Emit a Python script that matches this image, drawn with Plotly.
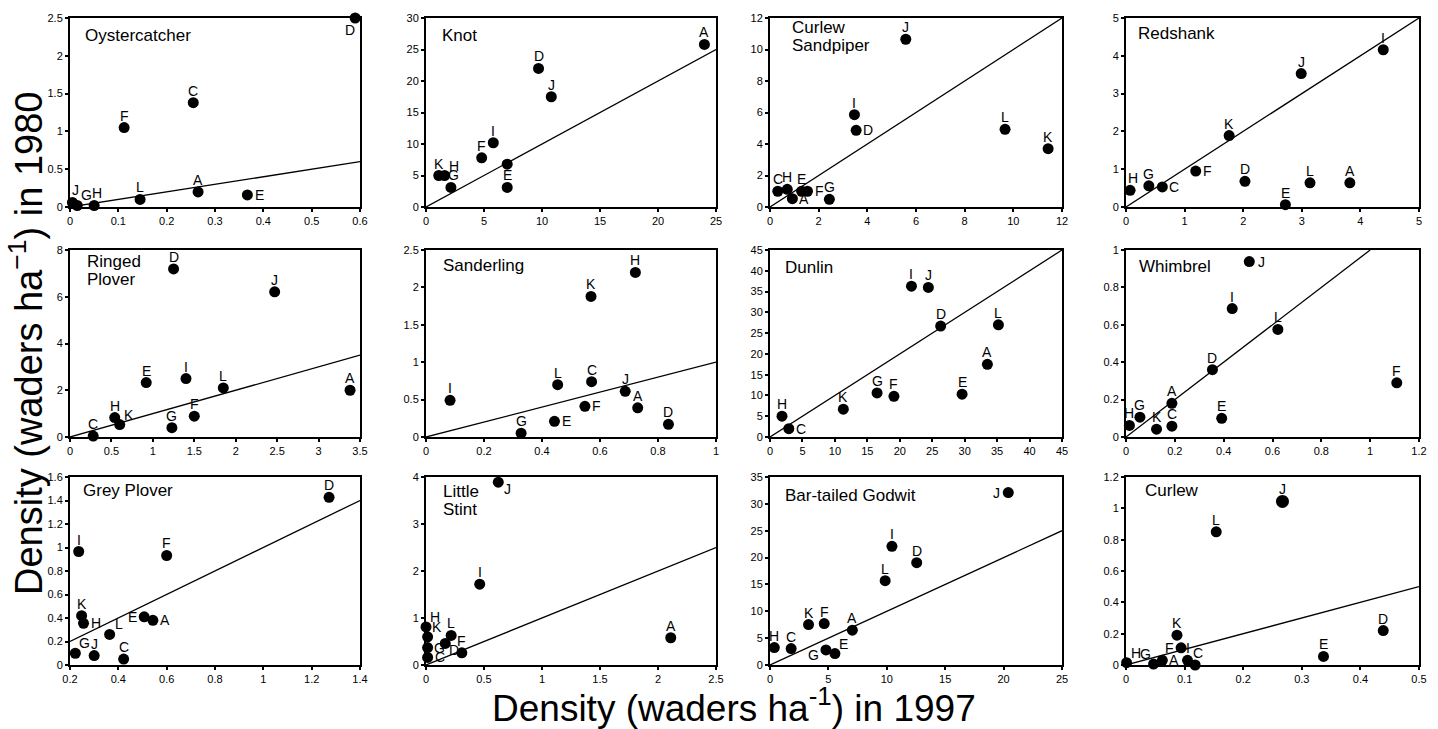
import plotly.graph_objects as go

# ---------------- data ----------------
species = [["Oystercatcher"], ["Knot"], ["Curlew", "Sandpiper"], ["Redshank"],
           ["Ringed", "Plover"], ["Sanderling"], ["Dunlin"], ["Whimbrel"],
           ["Grey Plover"], ["Little", "Stint"], ["Bar-tailed Godwit"], ["Curlew"]]

oyster_sites = ["A", "C", "D", "E", "F", "G", "H", "J", "L"]
oyster_1997 = [0.265, 0.255, 0.59, 0.367, 0.112, 0.015, 0.05, 0.005, 0.145]
oyster_1980 = [0.20, 1.38, 2.50, 0.16, 1.05, 0.02, 0.02, 0.06, 0.10]

knot_sites = ["A", "D", "E", "F", "G", "H", "I", "J", "K", ""]
knot_1997 = [24.0, 9.7, 7.0, 4.8, 2.15, 1.6, 5.8, 10.8, 1.1, 7.0]
knot_1980 = [25.8, 22.0, 3.1, 7.8, 3.1, 5.0, 10.2, 17.5, 5.0, 6.8]

cusa_sites = ["A", "C", "D", "E", "F", "G", "H", "I", "J", "K", "L"]
cusa_1997 = [0.92, 0.32, 3.54, 1.30, 1.54, 2.44, 0.71, 3.47, 5.58, 11.43, 9.66]
cusa_1980 = [0.53, 1.00, 4.87, 1.00, 1.00, 0.49, 1.12, 5.86, 10.65, 3.70, 4.93]

redshank_sites = ["A", "C", "D", "E", "F", "G", "H", "I", "J", "K", "L"]
redshank_1997 = [3.82, 0.62, 2.03, 2.72, 1.19, 0.39, 0.07, 4.39, 2.99, 1.76, 3.14]
redshank_1980 = [0.64, 0.53, 0.68, 0.06, 0.95, 0.56, 0.44, 4.16, 3.53, 1.89, 0.64]

ringed_sites = ["A", "C", "D", "E", "F", "G", "H", "I", "J", "K", "L"]
ringed_1997 = [3.38, 0.28, 1.25, 0.92, 1.50, 1.23, 0.54, 1.40, 2.47, 0.60, 1.85]
ringed_1980 = [2.00, 0.04, 7.19, 2.33, 0.89, 0.40, 0.83, 2.50, 6.21, 0.53, 2.10]

sanderling_sites = ["A", "C", "D", "E", "F", "G", "H", "I", "J", "K", "L"]
sanderling_1997 = [0.73, 0.571, 0.836, 0.443, 0.548, 0.328, 0.722, 0.083, 0.687, 0.569, 0.454]
sanderling_1980 = [0.39, 0.74, 0.17, 0.21, 0.41, 0.05, 2.20, 0.49, 0.61, 1.88, 0.70]

dunlin_sites = ["A", "C", "D", "E", "F", "G", "H", "I", "J", "K", "L"]
dunlin_1997 = [33.5, 2.9, 26.3, 29.6, 19.1, 16.5, 1.85, 21.8, 24.4, 11.3, 35.2]
dunlin_1980 = [17.5, 2.0, 26.7, 10.3, 9.8, 10.6, 5.0, 36.3, 36.0, 6.7, 27.0]

whimbrel_sites = ["A", "C", "D", "E", "F", "G", "H", "I", "J", "K", "L"]
whimbrel_1997 = [0.188, 0.188, 0.354, 0.392, 1.109, 0.057, 0.014, 0.435, 0.505, 0.125, 0.622]
whimbrel_1980 = [0.18, 0.058, 0.36, 0.10, 0.29, 0.106, 0.062, 0.687, 0.938, 0.042, 0.575]

grey_sites = ["A", "C", "D", "E", "F", "G", "H", "I", "J", "K", "L"]
grey_1997 = [0.543, 0.422, 1.272, 0.507, 0.60, 0.222, 0.256, 0.236, 0.30, 0.248, 0.364]
grey_1980 = [0.38, 0.05, 1.427, 0.41, 0.932, 0.10, 0.355, 0.966, 0.08, 0.42, 0.26]

stint_sites = ["A", "C", "D", "F", "G", "H", "I", "J", "K", "L"]
stint_1997 = [2.11, 0.014, 0.166, 0.309, 0.014, 0.0, 0.463, 0.623, 0.014, 0.217]
stint_1980 = [0.58, 0.16, 0.46, 0.26, 0.37, 0.81, 1.72, 3.89, 0.60, 0.63]

godwit_sites = ["A", "C", "D", "E", "F", "G", "H", "I", "J", "K", "L"]
godwit_1997 = [7.05, 1.81, 12.56, 5.56, 4.64, 4.79, 0.37, 10.44, 20.4, 3.3, 9.86]
godwit_1980 = [6.48, 3.05, 19.05, 2.12, 7.72, 2.80, 3.24, 22.1, 32.1, 7.53, 15.7]

curlew_sites = ["A", "C", "D", "E", "F", "G", "H", "I", "J", "K", "L"]
curlew_1997 = [0.062, 0.118, 0.439, 0.337, 0.094, 0.047, 0.001, 0.105, 0.267, 0.087, 0.154]
curlew_1980 = [0.03, 0.0, 0.22, 0.055, 0.11, 0.006, 0.015, 0.03, 1.044, 0.19, 0.85]

# axis ranges and tick steps
x_ranges = [[0, 0.6], [0, 25], [0, 12], [0, 5], [0, 3.5], [0, 1], [0, 45], [0, 1.2],
            [0.2, 1.4], [0, 2.5], [0, 25], [0, 0.5]]
y_ranges = [[0, 2.5], [0, 30], [0, 12], [0, 5], [0, 8], [0, 2.5], [0, 45], [0, 1],
            [0, 1.6], [0, 4], [0, 35], [0, 1.2]]
x_dticks = [0.1, 5, 2, 1, 0.5, 0.2, 5, 0.2, 0.2, 0.5, 5, 0.1]
y_dticks = [0.5, 5, 2, 1, 2, 0.5, 5, 0.2, 0.2, 1, 5, 0.2]

# ---------------- label placement (style): pixel offsets from the marker ----------------
OFF = {"t": (0, 12), "tR": (3, 12), "b": (0, -12), "bL": (-5, -12), "r": (12, 0), "l": (-12, 0),
       "tr": (9, 10), "tl": (-8, 10), "br": (9, -7), "bl": (-12, -5)}
oyster_pos = ["t", "t", "bL", "r", "t", "tr", "tR", "tR", "t"]
knot_pos = ["t", "t", "t", "t", "tR", "tr", "t", "t", "t", "t"]
cusa_pos = ["r", "t", "r", "t", "r", "t", "t", "t", "t", "t", "t"]
redshank_pos = ["t", "r", "t", "t", "r", "t", "tR", "t", "t", "t", "t"]
ringed_pos = ["t", "t", "t", "t", "t", "t", "t", "t", "t", "tr", "t"]
sanderling_pos = ["t", "t", "t", "r", "r", "t", "t", "t", "t", "t", "t"]
dunlin_pos = ["t", "r", "t", "t", "t", "t", "t", "t", "t", "t", "t"]
whimbrel_pos = ["t", "t", "t", "t", "t", "t", "t", "t", "r", "t", "t"]
grey_pos = ["r", "t", "t", "l", "t", "tr", "r", "t", "t", "t", "tr"]
stint_pos = ["t", "r", "br", "t", "r", "tr", "t", "br", "tr", "t"]
godwit_pos = ["t", "t", "t", "tr", "t", "bl", "t", "t", "l", "t", "t"]
curlew_pos = ["r", "tR", "t", "t", "l", "tl", "tr", "t", "t", "t", "t"]

panels = [
    (oyster_sites, oyster_1997, oyster_1980, oyster_pos),
    (knot_sites, knot_1997, knot_1980, knot_pos),
    (cusa_sites, cusa_1997, cusa_1980, cusa_pos),
    (redshank_sites, redshank_1997, redshank_1980, redshank_pos),
    (ringed_sites, ringed_1997, ringed_1980, ringed_pos),
    (sanderling_sites, sanderling_1997, sanderling_1980, sanderling_pos),
    (dunlin_sites, dunlin_1997, dunlin_1980, dunlin_pos),
    (whimbrel_sites, whimbrel_1997, whimbrel_1980, whimbrel_pos),
    (grey_sites, grey_1997, grey_1980, grey_pos),
    (stint_sites, stint_1997, stint_1980, stint_pos),
    (godwit_sites, godwit_1997, godwit_1980, godwit_pos),
    (curlew_sites, curlew_1997, curlew_1980, curlew_pos),
]

# ---------------- layout geometry (pixels) ----------------
W, H = 1438, 729
col_px = [(70, 360), (426, 716), (770, 1062), (1126, 1419)]
row_px = [(18, 207), (250, 437), (477, 665)]
title_dx = [13, 14, 20, 10, 15, 15, 13, 11, 11, 15, 13, 17]
title_dy = [-6, -6, 2, -4, 0, -4, -6, -5, -2, -3, -7, -2]
FONT = "Liberation Sans, Arial, Helvetica, sans-serif"

fig = go.Figure()
layout = dict(template="none", width=W, height=H, margin=dict(l=0, r=0, t=0, b=0, pad=0),
              paper_bgcolor="white", plot_bgcolor="white", showlegend=False,
              font=dict(family=FONT, color="black"))
annotations = []

for i, (sites, x97, y80, pos) in enumerate(panels):
    n = i + 1
    sfx = "" if n == 1 else str(n)
    r, c = divmod(i, 4)
    x0, x1 = col_px[c]
    yt, yb = row_px[r]
    common = dict(showgrid=False, zeroline=False, showline=True, mirror=True, automargin=False,
                  linecolor="black", linewidth=2, ticks="outside", ticklen=3, tickwidth=1.5,
                  tickcolor="black", tickfont=dict(size=11, family=FONT, color="black"))
    layout["xaxis" + sfx] = dict(domain=[x0 / W, x1 / W], range=x_ranges[i], dtick=x_dticks[i],
                                 tick0=x_ranges[i][0], anchor="y" + sfx, **common)
    layout["yaxis" + sfx] = dict(domain=[1 - yb / H, 1 - yt / H], range=y_ranges[i],
                                 dtick=y_dticks[i], tick0=0, anchor="x" + sfx, **common)

    # 1:1 reference line across the panel
    lo = max(x_ranges[i][0], y_ranges[i][0])
    hi = min(x_ranges[i][1], y_ranges[i][1])
    fig.add_trace(go.Scatter(x=[lo, hi], y=[lo, hi], mode="lines",
                             line=dict(color="black", width=1.3),
                             xaxis="x" + sfx, yaxis="y" + sfx, hoverinfo="skip"))

    sizes = [13 if (n == 12 and s == "J") else 11 for s in sites]
    fig.add_trace(go.Scatter(x=x97, y=y80, mode="markers",
                             marker=dict(color="black", size=sizes, opacity=1,
                                         line=dict(width=0)),
                             cliponaxis=False, xaxis="x" + sfx, yaxis="y" + sfx))

    for s, xv, yv, p in zip(sites, x97, y80, pos):
        if not s:
            continue
        dx, dy = OFF[p]
        annotations.append(dict(text=s, x=xv, y=yv, xref="x" + sfx, yref="y" + sfx,
                                xanchor="center", yanchor="middle", xshift=dx, yshift=dy,
                                showarrow=False,
                                font=dict(size=14, family=FONT, color="black")))

    for j, line in enumerate(species[i]):
        annotations.append(dict(text=line, xref=f"x{sfx} domain", yref=f"y{sfx} domain",
                                x=0, y=1, xanchor="left", yanchor="top",
                                xshift=title_dx[i], yshift=title_dy[i] - 18 * j,
                                showarrow=False, align="left",
                                font=dict(size=17, family=FONT, color="black")))

annotations.append(dict(text="Density (waders ha<sup>−1</sup>) in 1980", xref="paper", yref="paper",
                        x=26 / W, y=1 - 344 / H, textangle=-90, showarrow=False,
                        xanchor="center", yanchor="middle",
                        font=dict(size=38, family=FONT, color="black")))
annotations.append(dict(text="Density (waders ha<sup>-1</sup>) in 1997", xref="paper", yref="paper",
                        x=734 / W, y=1 - 705 / H, showarrow=False,
                        xanchor="center", yanchor="middle",
                        font=dict(size=37, family=FONT, color="black")))
layout["annotations"] = annotations
fig.update_layout(**layout)

fig.write_html("out.html", config={"displayModeBar": False},
               post_script="document.body.style.margin='0';document.body.style.overflow='hidden';")
